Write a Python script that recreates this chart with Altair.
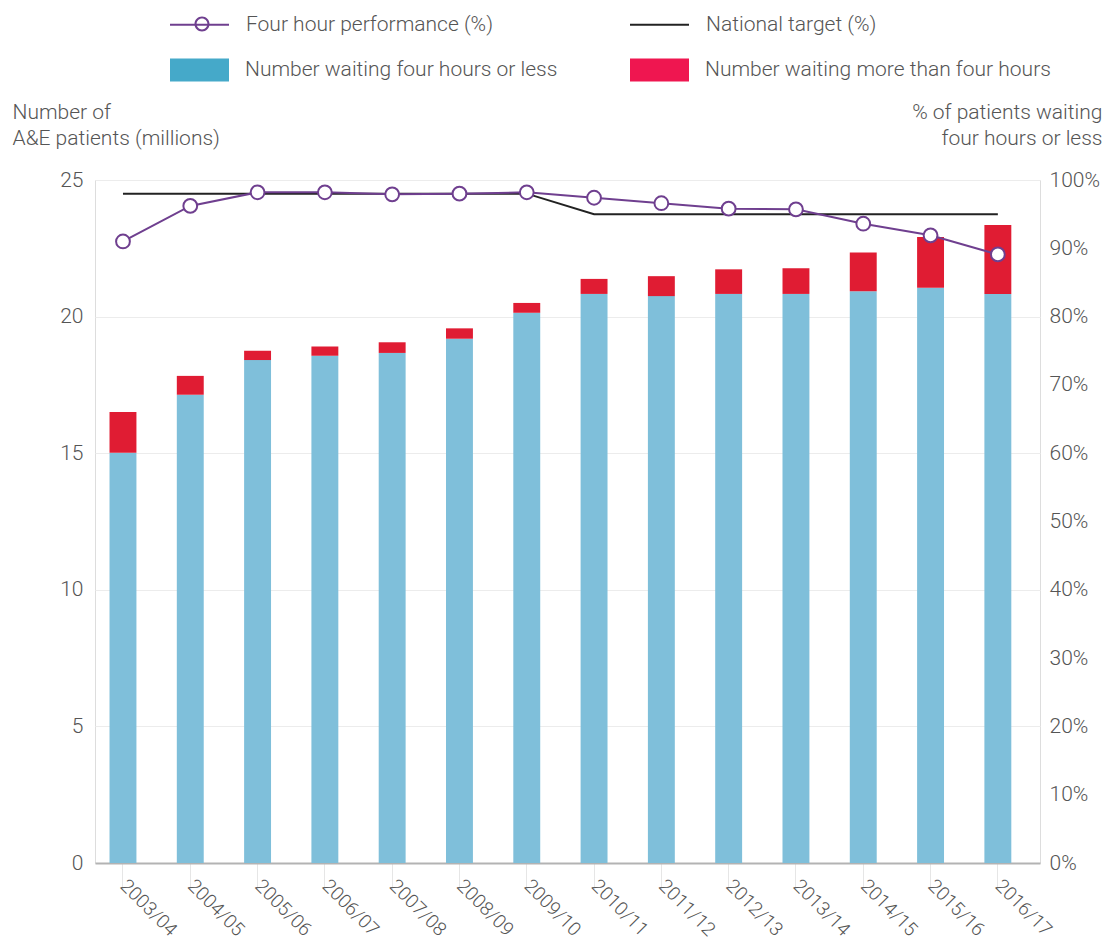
import altair as alt
import pandas as pd

years = ["2003/04", "2004/05", "2005/06", "2006/07", "2007/08", "2008/09", "2009/10",
         "2010/11", "2011/12", "2012/13", "2013/14", "2014/15", "2015/16", "2016/17"]
within_4h = [15.02, 17.14, 18.41, 18.57, 18.67, 19.19, 20.14,
             20.83, 20.75, 20.83, 20.83, 20.93, 21.06, 20.83]
total_attend = [16.51, 17.83, 18.75, 18.91, 19.06, 19.57, 20.50,
                21.38, 21.48, 21.73, 21.77, 22.35, 22.91, 23.35]
performance = [91.0, 96.2, 98.2, 98.2, 97.9, 98.0, 98.2,
               97.4, 96.6, 95.8, 95.7, 93.6, 91.9, 89.1]
target = [98, 98, 98, 98, 98, 98, 98, 95, 95, 95, 95, 95, 95, 95]

LEG_PERF = "Four hour performance (%)"
LEG_TGT = "National target (%)"
LEG_IN = "Number waiting four hours or less"
LEG_OVER = "Number waiting more than four hours"

FONT = "Roboto"
TXT = "#555555"
PURPLE = "#6f3f8f"
RING = "M1,0A1,1 0 1,0 -1,0A1,1 0 1,0 1,0Z M0.72,0A0.72,0.72 0 1,1 -0.72,0A0.72,0.72 0 1,1 0.72,0Z"

rows = []
for y, a, t in zip(years, within_4h, total_attend):
    rows.append({"year": y, "series": LEG_IN, "item": LEG_IN, "value": a, "order": 0})
    rows.append({"year": y, "series": LEG_OVER, "item": LEG_OVER, "value": round(t - a, 2), "order": 1})
bar_df = pd.DataFrame(rows)

perf_df = pd.DataFrame({"year": years, "pct": performance, "series": LEG_PERF,
                        "ring": "ring", "disk": "disk"})
tgt_df = pd.DataFrame({"year": years, "pct": target, "series": LEG_TGT})

x_enc = alt.X(
    "year:N", sort=years, title=None,
    scale=alt.Scale(paddingInner=0.6, paddingOuter=0.321, align=0.336),
    axis=alt.Axis(labelAngle=45, labelAlign="left", labelBaseline="top",
                  labelFontSize=19, labelColor=TXT, labelFont=FONT, labelFontWeight=300,
                  tickSize=25, tickColor="#e6e6e6", tickWidth=1, labelPadding=-12,
                  labelOffset=7, domainColor="#b3b3b3", domainWidth=2, grid=False),
)

bars = alt.Chart(bar_df).mark_bar().encode(
    x=x_enc,
    y=alt.Y("value:Q", stack="zero",
            scale=alt.Scale(domain=[0, 25], nice=False),
            axis=alt.Axis(values=[0, 5, 10, 15, 20, 25], grid=True, gridColor="#ececec",
                          domain=False, ticks=False, labelPadding=12,
                          labelFontSize=21, labelColor=TXT, labelFont=FONT, labelFontWeight=300,
                          title=["Number of", "A&E patients (millions)"],
                          titleAngle=0, titleAlign="left", titleBaseline="alphabetic",
                          titleX=-83, titleY=-62, titleFontSize=21, titleFont=FONT,
                          titleFontWeight=300, titleColor=TXT, titleLineHeight=26)),
    fill=alt.condition(alt.datum.series == LEG_IN, alt.value("#7fbfda"), alt.value("#e01c33")),
    order=alt.Order("order:Q"),
)

bar_legend = alt.Chart(bar_df).mark_square(opacity=0).encode(
    x=x_enc,
    y=alt.value(0),
    fill=alt.Fill("item:N", scale=alt.Scale(domain=[LEG_IN, LEG_OVER], range=["#45a9c9", "#ef1650"]),
                  legend=alt.Legend(orient="none", legendX=75, legendY=-140, direction="horizontal",
                                    title=None, symbolType="M-1,-0.39H1V0.39H-1Z", symbolSize=3481,
                                    symbolOpacity=1, symbolStrokeWidth=0, labelOffset=16,
                                    columnPadding=72, padding=0,
                                    labelFontSize=21, labelColor=TXT, labelFont=FONT,
                                    labelFontWeight=300, labelLimit=500)),
)

stroke_scale = alt.Scale(domain=[LEG_PERF, LEG_TGT], range=[PURPLE, "#222222"])
stroke_legend = alt.Legend(orient="none", legendX=74, legendY=-186, direction="horizontal",
                           title=None, symbolType="M-1,0H1", symbolSize=3481, symbolStrokeWidth=2,
                           labelOffset=16, columnPadding=133, padding=0, zindex=1,
                           labelFontSize=21, labelColor=TXT, labelFont=FONT,
                           labelFontWeight=300, labelLimit=500)

pct_scale = alt.Scale(domain=[0, 100], nice=False)
pct_axis = alt.Axis(orient="right", values=list(range(0, 101, 10)), grid=False, domain=False,
                    ticks=False, labelPadding=9, labelExpr="datum.value + '%'",
                    labelFontSize=21, labelColor=TXT, labelFont=FONT, labelFontWeight=300,
                    title=["% of patients waiting", "four hours or less"],
                    titleAngle=0, titleAlign="right", titleBaseline="alphabetic",
                    titleX=62, titleY=-62, titleFontSize=21, titleFont=FONT,
                    titleFontWeight=300, titleColor=TXT, titleLineHeight=26)

tgt_line = alt.Chart(tgt_df).mark_line(strokeWidth=2).encode(
    x=x_enc,
    y=alt.Y("pct:Q", scale=pct_scale, axis=pct_axis),
    stroke=alt.Stroke("series:N", scale=stroke_scale, legend=stroke_legend),
)

perf_line = alt.Chart(perf_df).mark_line(strokeWidth=2).encode(
    x=x_enc,
    y=alt.Y("pct:Q", scale=pct_scale, axis=pct_axis),
    stroke=alt.Stroke("series:N", scale=stroke_scale, legend=stroke_legend),
)

perf_pts = alt.Chart(perf_df).mark_point(filled=True, fill="white", stroke=PURPLE,
                                         strokeWidth=2, size=190, opacity=1).encode(
    x=x_enc,
    y=alt.Y("pct:Q", scale=pct_scale, axis=pct_axis),
)

# legend-only layers: white disk under a purple ring, drawn over the line symbol
disk_legend = alt.Chart(perf_df).mark_circle(color="white", size=0).encode(
    x=x_enc,
    y=alt.Y("pct:Q", scale=pct_scale, axis=pct_axis),
    shape=alt.Shape("disk:N", scale=alt.Scale(domain=["disk"], range=["circle"]),
                    legend=alt.Legend(orient="none", legendX=97.9, legendY=-166.5, title=None,
                                      labelExpr="''", labelFontSize=21, symbolSize=150,
                                      symbolFillColor="white", symbolStrokeWidth=0,
                                      symbolOpacity=1, padding=0, zindex=2)),
)

ring_legend = alt.Chart(perf_df).mark_circle(color=PURPLE, size=0).encode(
    x=x_enc,
    y=alt.Y("pct:Q", scale=pct_scale, axis=pct_axis),
    opacity=alt.Opacity("ring:O", scale=alt.Scale(domain=["ring"], range=[1]),
                        legend=alt.Legend(orient="none", legendX=96.5, legendY=-166.5, title=None,
                                          labelExpr="''", labelFontSize=21, symbolType=RING,
                                          symbolSize=225, symbolFillColor=PURPLE,
                                          symbolStrokeWidth=0, padding=0, zindex=3)),
)

left = alt.layer(bars, bar_legend)
right = alt.layer(tgt_line, perf_line, perf_pts, disk_legend, ring_legend)

chart = alt.layer(left, right).resolve_scale(y="independent").properties(
    width=945, height=683,
    padding={"left": 87, "top": 172, "right": 64, "bottom": 81},
    autosize=alt.AutoSizeParams(type="none"),
).configure_view(stroke=None).configure(font=FONT)

chart.save("out.html", embed_options={"renderer": "svg", "actions": False})
